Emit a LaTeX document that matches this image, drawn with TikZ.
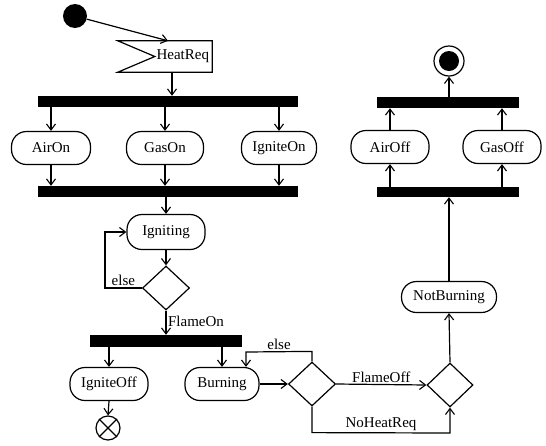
\documentclass[tikz,border=0pt]{standalone}
\usepackage{fontspec}
\setmainfont{Liberation Serif}
\usetikzlibrary{arrows.meta,shapes.misc,shapes.geometric,calc}
\begin{document}
\begin{tikzpicture}[x=1pt,y=-1pt,
  every node/.style={font=\fontsize{15}{18}\selectfont, inner sep=0pt},
  line/.style={line width=1.2pt},
  arr/.style={line, -{Straight Barb[length=6pt,width=9pt,line width=1.1pt]}},
  act/.style={rectangle, rounded corners=15pt, draw, line width=1.2pt, minimum height=33pt},
  bar/.style={fill=black, draw=none, minimum height=11pt},
  choice/.style={diamond, draw, line width=1.2pt, minimum width=47pt, minimum height=44pt},
  lbl/.style={font=\fontsize{15}{18}\selectfont, inner sep=1.5pt}]
\useasboundingbox (0,0) rectangle (546,445);

% start and the incoming heat request
\node[circle, fill=black, minimum size=24pt] (start) at (75,16) {};
\node[minimum width=94pt, minimum height=31pt, text width=88pt, align=right, inner xsep=3pt] (heat) at (165,56.5) {HeatReq};
\draw[line] (heat.north west) -- (heat.north east) -- (heat.south east) -- (heat.south west) -- ($(heat.west)+(37,0)$) -- cycle;

% ignition fork / join
\node[bar, minimum width=260pt] (fork1) at (168,101.5) {};
\node[act, minimum width=79pt] (airon) at (51,148) {AirOn};
\node[act, minimum width=77pt] (gason) at (165,148) {GasOn};
\node[act, minimum width=75pt] (igniteon) at (279,148) {IgniteOn};
\node[bar, minimum width=260pt] (join1) at (168,191.5) {};

\node[act, minimum width=78pt, minimum height=35pt] (igniting) at (166,232) {Igniting};
\node[choice] (dec1) at (166,288) {};

\node[bar, minimum width=152pt, minimum height=12pt] (fork2) at (166,341) {};
\node[act, minimum width=78pt] (igniteoff) at (109,384) {IgniteOff};
\node[act, minimum width=74pt] (burning) at (222,384) {Burning};
\node[circle, draw, line width=1.2pt, minimum size=24pt] (ff) at (108,428) {};
\draw[line] (ff.north west) -- (ff.south east) (ff.north east) -- (ff.south west);

\node[choice] (dec2) at (312,384) {};
\node[choice, minimum width=46pt] (dec3) at (450,385) {};
\node[act, minimum width=95pt, minimum height=31pt] (notburning) at (449,297) {NotBurning};

% shutdown fork / join
\node[bar, minimum width=142pt, minimum height=10pt] (join2) at (448,192) {};
\node[act, minimum width=78pt] (airoff) at (390,147) {AirOff};
\node[act, minimum width=78pt] (gasoff) at (502,147) {GasOff};
\node[bar, minimum width=142pt] (join3) at (448,102.5) {};
\node[circle, draw, line width=1.2pt, minimum size=30pt] (final) at (449,61) {};
\fill (final.center) circle (10);

% connectors
\draw[arr] (start) -- ($(heat.north)+(3,0)$);
\coordinate (hq) at ($(heat.south)+(7,0)$);
\draw[arr] (hq) -- (hq |- fork1.north);
\foreach \n in {airon,gason,igniteon}{
  \draw[arr] (\n |- fork1.south) -- (\n.north);
  \draw[arr] (\n.south) -- (\n |- join1.north);
}
\draw[arr] (igniting |- join1.south) -- (igniting.north);
\draw[arr] (igniting.south) -- (dec1.north);
\draw[arr] (dec1.west) -- node[lbl, above] {else} ++(-37,0) |- (igniting.west);
\draw[arr] (dec1.south) -- node[lbl, right, pos=0.45] {FlameOn} (dec1 |- fork2.north);
\draw[arr] (igniteoff |- fork2.south) -- (igniteoff.north);
\draw[arr] (burning |- fork2.south) -- (burning.north);
\draw[arr] (igniteoff.south) -- (ff.north);
\draw[arr] (burning.east) -- (dec2.west);
\coordinate (bn) at ($(burning.north)+(24,0)$);
\draw[arr] (dec2.north) -- ++(0,-10) -- node[lbl, above] {else} (bn |- 0,352) -- (bn);
\draw[arr] (dec2.east) -- node[lbl, above] {FlameOff} (dec3.west);
\draw[arr] (dec2.south) -- ++(0,26) -- node[lbl, above] {NoHeatReq} (dec3 |- 0,433) -- (dec3.south);
\draw[arr] (dec3.north) -- (notburning.south);
\draw[arr] (notburning.north) -- (notburning |- join2.south);
\foreach \n in {airoff,gasoff}{
  \draw[arr] (\n |- join2.north) -- (\n.south);
  \draw[arr] (\n.north) -- (\n |- join3.south);
}
\draw[arr] (final |- join3.north) -- (final.south);
\end{tikzpicture}
\end{document}
